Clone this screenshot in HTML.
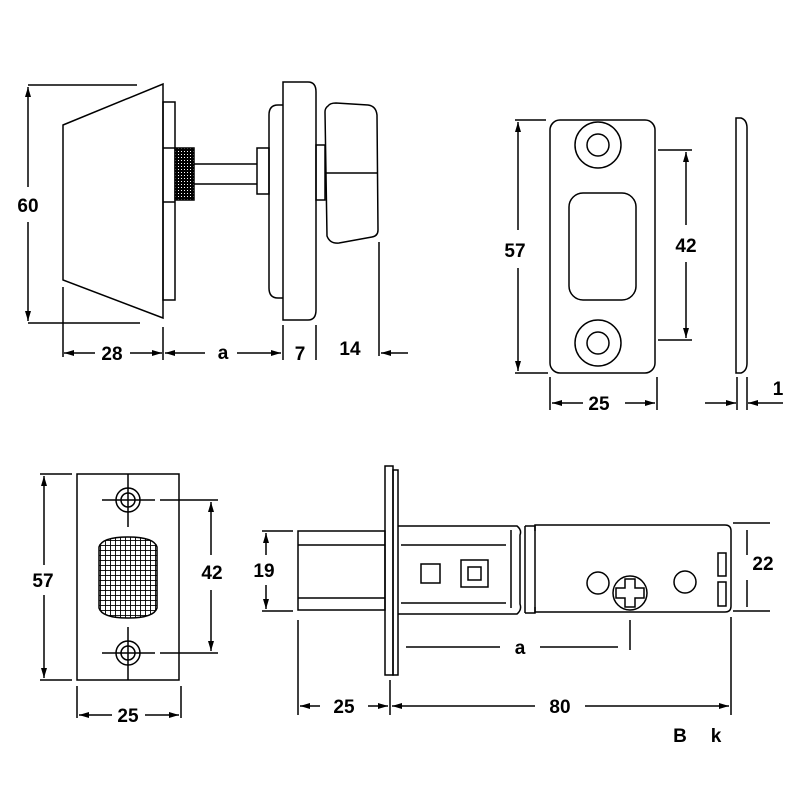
<!DOCTYPE html>
<html><head><meta charset="utf-8"><style>html,body{margin:0;padding:0;background:#fff}svg{display:block}</style></head>
<body>
<svg width="800" height="800" viewBox="0 0 800 800" xmlns="http://www.w3.org/2000/svg">
<defs>
<marker id="a" viewBox="0 0 10 6" refX="10" refY="3" markerWidth="10" markerHeight="6" orient="auto-start-reverse" markerUnits="userSpaceOnUse"><path d="M0,0L10,3L0,6z" fill="#000"/></marker>
<pattern id="knurl" width="3" height="3" patternUnits="userSpaceOnUse"><rect width="3" height="3" fill="#000"/><rect x="1" y="1" width="1" height="1" fill="#fff"/></pattern>
<pattern id="grid" width="5" height="5" patternUnits="userSpaceOnUse"><rect width="5" height="5" fill="#fff"/><path d="M0,0H5M0,0V5" stroke="#000" stroke-width="1.8"/></pattern>
</defs>
<g fill="none" stroke="#000" stroke-width="1.5">
<path d="M28,85H137M28,323H140"/>
<line x1="28" y1="187" x2="28" y2="87" marker-end="url(#a)"/>
<line x1="28" y1="222" x2="28" y2="321" marker-end="url(#a)"/>
<path d="M63,125L163,84V318L63,280Z" fill="#fff"/>
<rect x="163" y="102" width="12" height="198"/>
<path d="M163,148H175M163,202H175"/>
<rect x="175" y="148" width="19" height="52" fill="url(#knurl)"/>
<path d="M194,164H257M194,184H257"/>
<rect x="257" y="148" width="12" height="46"/>
<path d="M283,105H278Q269,105 269,115V288Q269,298 278,298H283"/>
<path d="M283,82H308Q316,82 316,92V310Q316,320 308,320H283Z"/>
<rect x="316" y="145" width="9" height="55"/>
<path d="M328,106Q330,103 336,103L368,105Q376,106 377,115L378,230Q378,236 372,237L339,243Q330,244 327,236L325,112Q325,108 328,106Z"/>
<path d="M325,173H378"/>
<path d="M63,287V357M163,327V360M283,325V360M316,325V360M379,242V356"/>
<line x1="95" y1="353" x2="64" y2="353" marker-end="url(#a)"/>
<line x1="130" y1="353" x2="162" y2="353" marker-end="url(#a)"/>
<line x1="205" y1="353" x2="165" y2="353" marker-end="url(#a)"/>
<line x1="237" y1="353" x2="281" y2="353" marker-end="url(#a)"/>
<line x1="408" y1="353" x2="381" y2="353" marker-end="url(#a)"/>
<rect x="550" y="120" width="105" height="253" rx="10"/>
<circle cx="598" cy="145" r="23"/><circle cx="598" cy="145" r="11"/>
<circle cx="598" cy="343" r="23"/><circle cx="598" cy="343" r="11"/>
<rect x="569" y="193" width="67" height="107" rx="14"/>
<path d="M515,120H546M515,373H548"/>
<line x1="518" y1="230" x2="518" y2="122" marker-end="url(#a)"/>
<line x1="518" y1="268" x2="518" y2="371" marker-end="url(#a)"/>
<path d="M658,150H692M658,340H692"/>
<line x1="686" y1="225" x2="686" y2="152" marker-end="url(#a)"/>
<line x1="686" y1="262" x2="686" y2="338" marker-end="url(#a)"/>
<path d="M550,377V410M657,377V410"/>
<line x1="583" y1="403" x2="552" y2="403" marker-end="url(#a)"/>
<line x1="625" y1="403" x2="655" y2="403" marker-end="url(#a)"/>
<path d="M736,118H741Q747,120 747,128V363Q747,371 741,373H736Z"/>
<path d="M737,377V410M747,377V410"/>
<line x1="705" y1="403" x2="736" y2="403" marker-end="url(#a)"/>
<line x1="783" y1="403" x2="748" y2="403" marker-end="url(#a)"/>
<rect x="77" y="474" width="102" height="206"/>
<circle cx="128" cy="500" r="12"/><circle cx="128" cy="500" r="7"/>
<circle cx="128" cy="653" r="12"/><circle cx="128" cy="653" r="7"/>
<path d="M102,500H155M128,474V527M102,653H155M128,627V680"/>
<path d="M99,547Q102,537 128,537Q154,537 157,547V608Q154,618 128,618Q102,618 99,608Z" fill="url(#grid)"/>
<path d="M40,474H72M40,680H72"/>
<line x1="44" y1="565" x2="44" y2="476" marker-end="url(#a)"/>
<line x1="44" y1="595" x2="44" y2="678" marker-end="url(#a)"/>
<path d="M160,500H218M160,653H218"/>
<line x1="211" y1="555" x2="211" y2="502" marker-end="url(#a)"/>
<line x1="211" y1="590" x2="211" y2="651" marker-end="url(#a)"/>
<path d="M77,686V718M181,686V718"/>
<line x1="112" y1="715" x2="79" y2="715" marker-end="url(#a)"/>
<line x1="145" y1="715" x2="179" y2="715" marker-end="url(#a)"/>
<rect x="298" y="531" width="87" height="79"/>
<path d="M298,545H385M298,598H385"/>
<rect x="385" y="466" width="8" height="209"/>
<rect x="393" y="470" width="5" height="205"/>
<path d="M398,526H517Q522,530 520,535V604Q522,610 517,614H398"/>
<path d="M401,545H506M401,603H506M511,530V608"/>
<path d="M525,526V613M525,526H535V531M525,613H535V607"/>
<path d="M535,525H725Q731,525 731,531V606Q731,612 725,612H535Z"/>
<rect x="421" y="564" width="19" height="19"/>
<rect x="461" y="560" width="27" height="27"/><rect x="468" y="567" width="13" height="13"/>
<circle cx="598" cy="583" r="11"/><circle cx="685" cy="582" r="11"/>
<circle cx="630" cy="593" r="17"/>
<path d="M625,579H635V588H644V598H635V607H625V598H616V588H625Z"/>
<rect x="718" y="553" width="8" height="23"/><rect x="718" y="582" width="8" height="24"/>
<path d="M733,523H770M733,611H770M747,530V555M747,580V607"/>
<path d="M262,531H293M262,611H293"/>
<line x1="266" y1="555" x2="266" y2="533" marker-end="url(#a)"/>
<line x1="266" y1="585" x2="266" y2="609" marker-end="url(#a)"/>
<path d="M630,620V650M731,617V715M298,620V715M390,680V715"/>
<path d="M406,647H500M540,647H618"/>
<line x1="320" y1="706" x2="300" y2="706" marker-end="url(#a)"/>
<line x1="368" y1="706" x2="388" y2="706" marker-end="url(#a)"/>
<line x1="535" y1="706" x2="392" y2="706" marker-end="url(#a)"/>
<line x1="585" y1="706" x2="729" y2="706" marker-end="url(#a)"/>
</g>
<g font-family="Liberation Sans, sans-serif" font-weight="bold" font-size="19" text-anchor="middle" fill="#000">
<text x="28" y="212">60</text>
<text x="112" y="360">28</text>
<text x="223" y="359">a</text>
<text x="300" y="360">7</text>
<text x="350" y="355">14</text>
<text x="515" y="257">57</text>
<text x="686" y="252">42</text>
<text x="599" y="410">25</text>
<text x="778" y="395">1</text>
<text x="43" y="587">57</text>
<text x="212" y="579">42</text>
<text x="128" y="722">25</text>
<text x="264" y="577">19</text>
<text x="763" y="570">22</text>
<text x="520" y="654">a</text>
<text x="344" y="713">25</text>
<text x="560" y="713">80</text>
<text x="680" y="742">B</text>
<text x="716" y="742">k</text>
</g>
</svg>
</body></html>
